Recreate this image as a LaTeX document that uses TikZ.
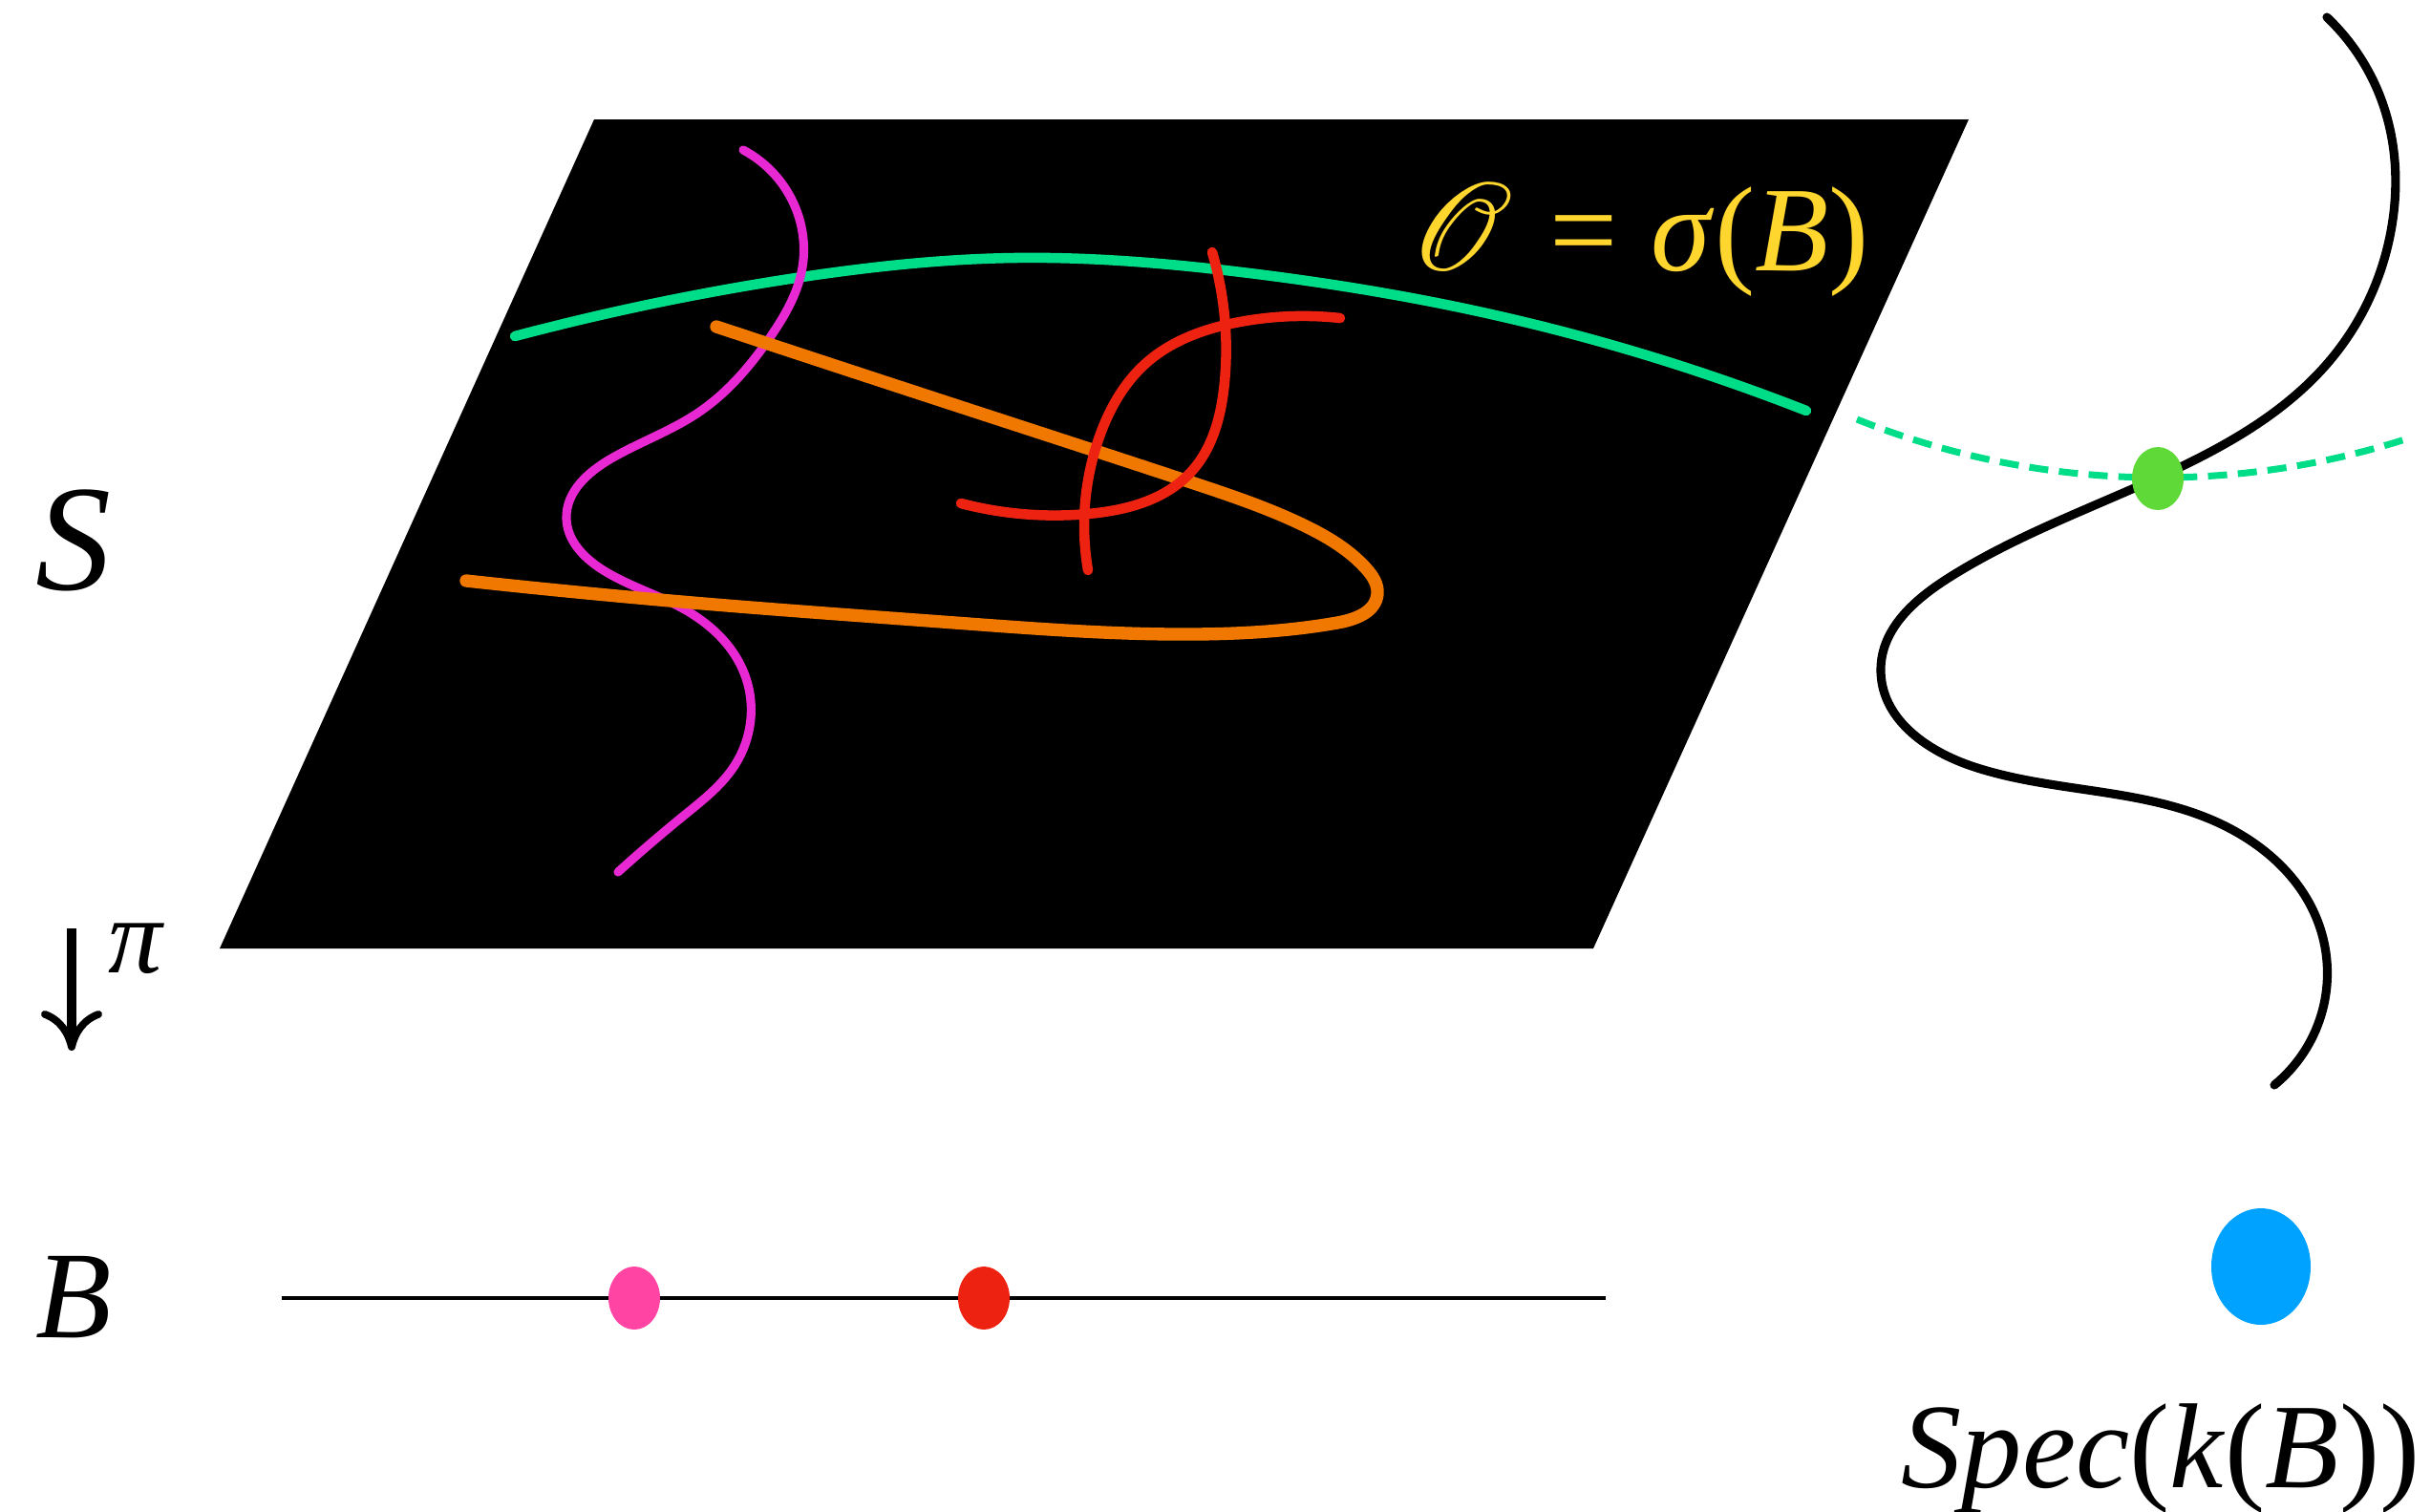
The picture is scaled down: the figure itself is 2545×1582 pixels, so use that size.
\documentclass[tikz,border=0pt]{standalone}
\usepackage{fontspec}
\setmainfont{Liberation Serif}
\usepackage{mathrsfs}
\usepackage{graphicx}
\usetikzlibrary{arrows.meta,hobby}
\definecolor{arcgreen}{RGB}{0,221,136}
\definecolor{dotgreen}{RGB}{95,217,55}
\definecolor{magcurve}{RGB}{232,40,210}
\definecolor{orgcurve}{RGB}{240,120,0}
\definecolor{redcurve}{RGB}{238,34,17}
\definecolor{pinkdot}{RGB}{255,68,164}
\definecolor{bluedot}{RGB}{0,162,255}
\definecolor{ylw}{RGB}{255,214,45}
\begin{document}
\begin{tikzpicture}[x=0.1mm,y=-0.1mm,
  chalk/.style={line cap=round,line join=round,use Hobby shortcut},
  lbl/.style={inner sep=0pt,font=\fontsize{36}{40}\selectfont}]
\useasboundingbox (0,0) rectangle (2545,1582);
% plane
\fill[black] (622,125) -- (2061,125) -- (1668,993) -- (230,993) -- cycle;
% green section on plane
\draw[chalk,arcgreen,line width=3.0pt]
  (539,352) .. (833,291) .. (1062,270) .. (1300,285) .. (1552,327) .. (1891,430);
% magenta curve
\draw[chalk,magcurve,line width=2.6pt]
  (778,157) .. (833,218) .. (840,280) .. (807,352) .. (731,432) .. (640,480) .. (593,543) .. (630,596) .. (720,640) .. (781,710) .. (770,800) .. (717,853) .. (647,913);
% orange curve
\draw[chalk,orgcurve,line width=3.8pt]
  (750,342) .. (1024,432) .. (1247,505) .. (1365,550) .. (1430,595) .. (1442,622) .. (1400,652) .. (1250,664) .. (1000,652) .. (737,632) .. (488,608);
% red curves
\draw[chalk,redcurve,line width=3.0pt]
  (1006,527) .. (1139,538) .. (1247,494) .. (1282,400) .. (1269,264);
\draw[chalk,redcurve,line width=3.0pt]
  (1403,333) .. (1298,337) .. (1200,380) .. (1150,460) .. (1139,597);
% label O = sigma(B)
\node[lbl,anchor=base west,text=ylw,font=\fontsize{36}{40}\selectfont] (sig) at (1476,283)
  {\scalebox{1.5}{\fontsize{24.88}{28}\selectfont$\mathscr{O}$}\hspace{0.3em}=\hspace{0.28em}\textit{σ}(\textit{B})};
% right curve
\draw[chalk,black,line width=2.6pt]
  (2436,18) .. (2495,110) .. (2505,230) .. (2442,374) .. (2259,500) .. (2040,605) .. (1969,700) .. (2067,803) .. (2317,859) .. (2430,975) .. (2381,1136);
% dashed continuation of the section
\draw[chalk,line cap=butt,arcgreen,line width=2pt,dash pattern=on 5.7pt off 3.2pt]
  (1944,439) .. (2259,500) .. (2521,459);
\fill[dotgreen] (2259,501) ellipse [x radius=27,y radius=33];
% base
\coordinate (bl) at (295,1359);
\coordinate (br) at (1681,1359);
\draw[line width=1.4pt] (bl) -- (br);
\fill[pinkdot] (664,1359) ellipse [x radius=27,y radius=33];
\fill[redcurve] (1030,1359) ellipse [x radius=27,y radius=33];
\fill[bluedot] (2367,1326) ellipse [x radius=52,y radius=61];
% labels
\node[lbl,anchor=base,font=\fontsize{45}{50}\selectfont\itshape] (S) at (77,617) {S};
\node[lbl,anchor=base,font=\fontsize{37}{40}\selectfont\itshape] (B) at (77,1400) {B};
\node[lbl,anchor=base west,font=\fontsize{32}{36}\selectfont\itshape] (pi) at (113,1018) {π};
\node[lbl,anchor=base west] (spec) at (1990,1557) {\textit{Spec}(\textit{k}(\textit{B}))};
% projection arrow
\coordinate (pitop) at (75,972);
\coordinate (pibot) at (75,1100);
\draw[line width=2.7pt,-{Computer Modern Rightarrow[length=4.2mm,width=6.4mm,line width=2.2pt]}] (pitop) -- (pibot);
\end{tikzpicture}
\end{document}
